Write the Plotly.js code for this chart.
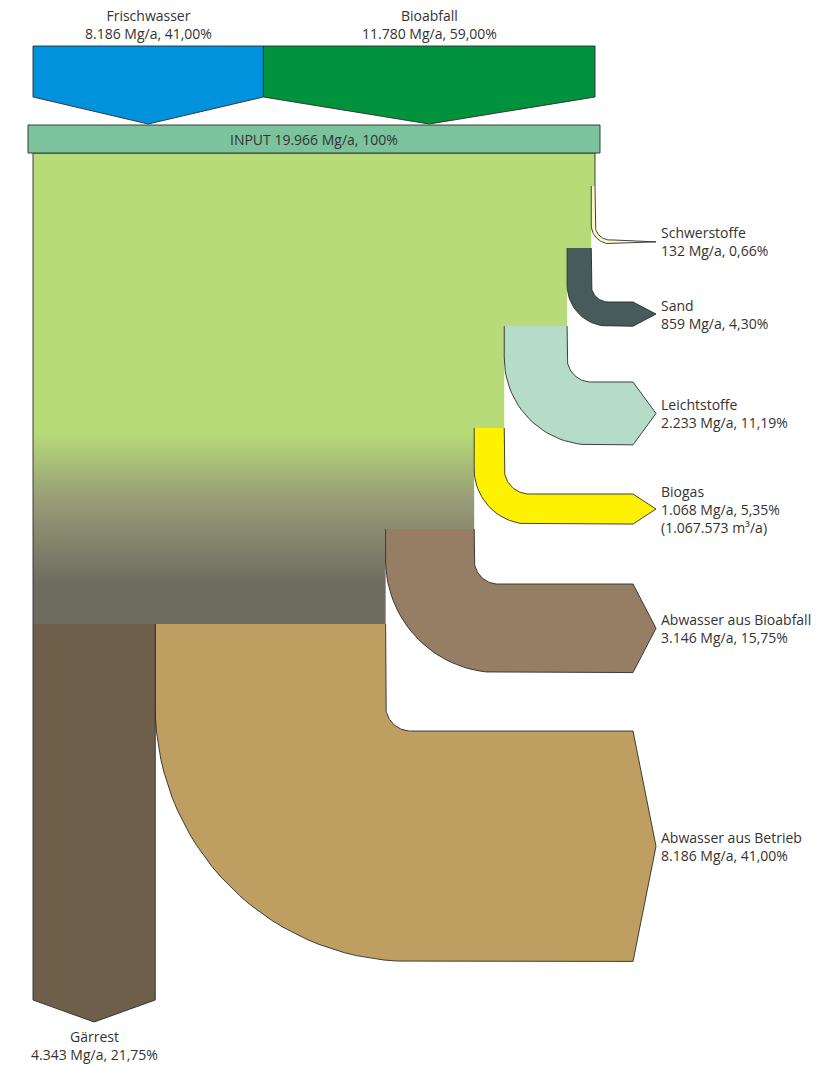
<!DOCTYPE html>
<html>
<head>
<meta charset="utf-8">
<script src="https://cdn.plot.ly/plotly-3.0.1.min.js"></script>
<style>html,body{margin:0;padding:0;background:#fff;}#chart{width:824px;height:1065px;}</style>
</head>
<body>
<div id="chart"></div>
<script>
// ---------- DATA ----------
const total = 19966;
const totalLabel = 'INPUT 19.966 Mg/a, 100%';
const inputNames = ['Frischwasser', 'Bioabfall'];
const inputValues = [8186, 11780];
const inputText = ['8.186 Mg/a, 41,00%', '11.780 Mg/a, 59,00%'];
const outputNames = ['Schwerstoffe', 'Sand', 'Leichtstoffe', 'Biogas', 'Abwasser aus Bioabfall', 'Abwasser aus Betrieb', 'Gärrest'];
const outputValues = [132, 859, 2233, 1068, 3146, 8186, 4343];
const outputText = ['132 Mg/a, 0,66%', '859 Mg/a, 4,30%', '2.233 Mg/a, 11,19%', '1.068 Mg/a, 5,35%', '3.146 Mg/a, 15,75%', '8.186 Mg/a, 41,00%', '4.343 Mg/a, 21,75%'];
const outputExtra = ['', '', '', '(1.067.573 m³/a)', '', '', ''];

// ---------- LAYOUT / STYLE ----------
const X0 = 33, WIDTH = 562;
const k = WIDTH / total;
const branchStartY = [186, 248, 326, 428, 529, 624];
const branchBandTop = [240, 302, 382, 494, 584, 731];
const branchInnerR = [15, 17, 24, 25, 24, 25];
const branchBandEnd = [614, 633, 633, 633, 633, 633];
const tipX = 656;
const bodyTop = 153;
const inputColors = ['#0092dc', '#00923d'];
const outputColors = ['#fff7c6', '#465b5a', '#b4dcc8', '#fff200', '#957e64', '#bf9e62', '#6e5f4b'];
const lineCol = '#2b2b2b';
const FONT = 'Open Sans, sans-serif';
const txtCol = '#333333';

const traces = [];
const annotations = [];

function addShape(xs, ys, fill, outlineXs, outlineYs, extra) {
  const t = {x: xs, y: ys, mode: 'lines', fill: 'toself', fillcolor: fill,
    line: {width: 0, color: fill}, hoverinfo: 'skip', showlegend: false};
  if (extra) Object.assign(t, extra);
  traces.push(t);
  if (outlineXs) {
    traces.push({x: outlineXs, y: outlineYs, mode: 'lines', line: {width: 0.9, color: lineCol},
      hoverinfo: 'skip', showlegend: false});
  }
}

// branch geometry from values
const xR = [], xL = [];
let cur = X0 + total * k;
for (let i = 0; i < 6; i++) {
  xR.push(cur);
  cur -= outputValues[i] * k;
  xL.push(cur);
}

// main body with gradient
const bx = [X0, X0 + total * k], by = [bodyTop, bodyTop];
for (let i = 0; i < 5; i++) { bx.push(xR[i], xL[i]); by.push(branchStartY[i], branchStartY[i]); }
bx.push(xL[4], X0); by.push(branchStartY[5], branchStartY[5]);
addShape(bx, by, '#b6db78', [X0, X0, X0 + total * k, X0 + total * k], [branchStartY[5], bodyTop, bodyTop, branchStartY[0]], {
  fillgradient: {type: 'vertical', start: 432, stop: 585, colorscale: [[0, '#b6db78'], [0.45, '#989b77'], [1, '#6e6b5f']]}
});

// side branches
for (let i = 0; i < 6; i++) {
  const w = outputValues[i] * k;
  const r = branchInnerR[i];
  const top = branchBandTop[i];
  const cx = xR[i] + r, cy = top - r;
  const px = [xR[i], xR[i]], py = [branchStartY[i], cy];
  const N = 30;
  for (let j = 1; j <= N; j++) { const t = j / N * Math.PI / 2; px.push(cx - r * Math.cos(t)); py.push(cy + r * Math.sin(t)); }
  px.push(branchBandEnd[i], tipX, branchBandEnd[i], cx); py.push(top, top + w / 2, top + w, top + w);
  const R = r + w;
  for (let j = N; j >= 0; j--) { const t = j / N * Math.PI / 2; px.push(cx - R * Math.cos(t)); py.push(cy + R * Math.sin(t)); }
  px.push(xL[i]); py.push(branchStartY[i]);
  addShape(px, py, outputColors[i], px, py);
  const lines = [outputNames[i], outputText[i]];
  if (outputExtra[i]) lines.push(outputExtra[i]);
  annotations.push({x: tipX + 3, y: top + w / 2, xref: 'x', yref: 'y', text: lines.join('<br>'), showarrow: false,
    xanchor: 'left', yanchor: 'middle', align: 'left', font: {family: FONT, size: 14, color: txtCol}});
}

// Gärrest (downwards)
{
  const gL = X0, gR = X0 + outputValues[6] * k, gc = (gL + gR) / 2;
  const gx = [gR, gR, gc, gL, gL], gy = [branchStartY[5], 1000, 1022, 1000, branchStartY[5]];
  addShape(gx, gy, outputColors[6], gx, gy);
  annotations.push({x: gc, y: 1045, xref: 'x', yref: 'y', text: outputNames[6] + '<br>' + outputText[6], showarrow: false,
    xanchor: 'center', yanchor: 'middle', align: 'center', font: {family: FONT, size: 14, color: txtCol}});
}

// inputs
{
  let x = X0;
  for (let i = 0; i < inputValues.length; i++) {
    const w = inputValues[i] * k, c = x + w / 2;
    const ix = [x, x + w, x + w, c, x, x], iy = [46, 46, 97, 124, 97, 46];
    addShape(ix, iy, inputColors[i], ix, iy);
    annotations.push({x: c, y: 24, xref: 'x', yref: 'y', text: inputNames[i] + '<br>' + inputText[i], showarrow: false,
      xanchor: 'center', yanchor: 'middle', align: 'center', font: {family: FONT, size: 14, color: txtCol}});
    x += w;
  }
}

// input bar
{
  const ax = [X0 - 5, X0 + total * k + 5, X0 + total * k + 5, X0 - 5, X0 - 5], ay = [125, 125, bodyTop, bodyTop, 125];
  addShape(ax, ay, '#7bc39c', ax, ay);
  annotations.push({x: X0 + total * k / 2, y: 139, xref: 'x', yref: 'y', text: totalLabel, showarrow: false,
    xanchor: 'center', yanchor: 'middle', font: {family: FONT, size: 14, color: txtCol}});
}

const layout = {
  width: 824, height: 1065,
  margin: {l: 0, r: 0, t: 0, b: 0},
  paper_bgcolor: '#ffffff', plot_bgcolor: '#ffffff',
  xaxis: {range: [0, 824], visible: false, fixedrange: true},
  yaxis: {range: [1065, 0], visible: false, fixedrange: true},
  annotations: annotations,
  showlegend: false
};
Plotly.newPlot('chart', traces, layout, {displayModeBar: false, staticPlot: true});
</script>
</body>
</html>
